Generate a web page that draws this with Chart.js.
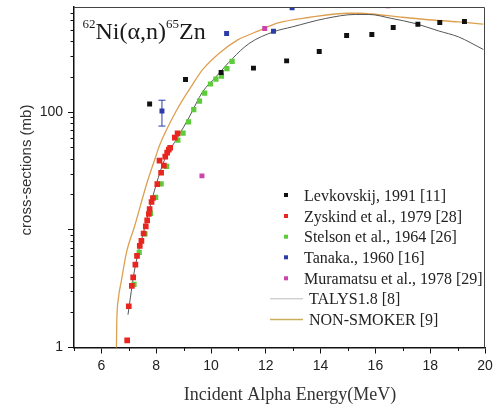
<!DOCTYPE html>
<html><head><meta charset="utf-8">
<script src="https://cdn.jsdelivr.net/npm/chart.js@4.4.1/dist/chart.umd.min.js"></script>
<style>html,body{margin:0;padding:0;background:#fff;}#wrap{width:497px;height:407px;}</style>
</head><body><div id="wrap"><canvas id="c" width="497" height="407"></canvas></div>
<script>
// ---- data (energies in MeV, cross-sections in mb) ----
const levE  = [7.76, 9.07, 10.37, 11.55, 12.76, 13.95, 14.95, 15.87, 16.65, 17.55, 18.35, 19.25];
const levXS = [117, 189, 217, 236, 272, 327, 447, 456, 523, 557, 576, 588];

const zysE  = [6.94, 7.00, 7.11, 7.16, 7.24, 7.30, 7.40, 7.46, 7.54, 7.62, 7.67, 7.73, 7.76, 7.83, 7.88, 8.04, 8.12, 8.18, 8.28, 8.33, 8.40, 8.46, 8.51, 8.68, 8.78];
const zysXS = [1.15, 2.24, 3.34, 3.94, 5.05, 6.0, 7.3, 8.05, 9.29, 10.7, 12.0, 13.6, 15.0, 17.2, 18.6, 24.4, 38.7, 30.5, 35.1, 41.8, 45.2, 48.0, 49.7, 60.6, 65.8];

const stelE  = [7.19, 7.38, 7.59, 7.79, 7.98, 8.18, 8.38, 8.79, 8.98, 9.18, 9.37, 9.58, 9.77, 9.98, 10.18, 10.38, 10.58, 10.77];
const stelXS = [3.43, 6.44, 9.23, 13.8, 18.8, 24.5, 34.5, 57.7, 66.2, 82.4, 105, 124, 145, 173, 190, 202, 234, 269];

const tanE   = [8.21, 10.57, 12.28, 12.96];
const tanXS  = [102, 465, 486, 770];
const tanLo  = [76, null, null, null];
const tanHi  = [126, null, null, null];

const muraE  = [9.67, 11.96, 16.46];
const muraXS = [28.7, 512, 800];

const talysE  = [6.97, 7.21, 7.575, 7.94, 8.3, 8.785, 9.21, 9.69, 10.18, 10.785, 11.39, 12.28, 12.97, 14.18, 15.27, 15.76, 16.6, 17.45, 18.3, 19.03, 19.94];
const talysXS = [1.9, 4.55, 10.3, 21.7, 39, 61, 91, 148, 199, 285, 382, 480, 529, 623, 674, 674, 623, 565, 489, 435, 340];

const nsE  = [6.54, 6.56, 6.62, 6.73, 6.92, 7.2, 7.64, 8.0, 8.12, 8.73, 9.33, 9.7, 10.3, 10.96, 11.76, 12.48, 13.57, 15.03, 15.47, 15.88, 16.85, 17.82, 19.03, 19.94];
const nsXS = [0.7, 1.6, 2.6, 3.7, 6.5, 10.5, 24, 43, 52, 102, 172, 230, 316, 408, 491, 574, 635, 690, 690, 680, 643, 611, 583, 557];

const xTickLabels = [6, 8, 10, 12, 14, 16, 18, 20];
const yTickLabels = [1, 100];

const pts = (xs, ys) => xs.map((x, i) => ({x: x, y: ys[i]}));

const SERIF = '"Liberation Serif", "Times New Roman", serif';
const SANS = '"Liberation Sans", Arial, sans-serif';

const decor = {
  id: 'decor',
  afterDatasetsDraw(chart) {
    const {ctx} = chart;
    const xs = chart.scales.x, ys = chart.scales.y;
    ctx.save();
    ctx.strokeStyle = '#2B3BA8';
    ctx.lineWidth = 1;
    tanE.forEach((e, i) => {
      if (tanLo[i] == null) return;
      const px = xs.getPixelForValue(e);
      const p1 = ys.getPixelForValue(tanLo[i]);
      const p2 = ys.getPixelForValue(tanHi[i]);
      ctx.beginPath();
      ctx.moveTo(px, p1); ctx.lineTo(px, p2);
      ctx.moveTo(px - 3.5, p1); ctx.lineTo(px + 3.5, p1);
      ctx.moveTo(px - 3.5, p2); ctx.lineTo(px + 3.5, p2);
      ctx.stroke();
    });
    ctx.restore();
  },
  afterDraw(chart) {
    const {ctx, chartArea: a} = chart;
    const xs = chart.scales.x, ys = chart.scales.y;
    ctx.save();
    ctx.strokeStyle = '#444';
    ctx.lineWidth = 1;
    ctx.beginPath();
    ctx.moveTo(a.left, a.top + 0.5); ctx.lineTo(a.right - 0.5, a.top + 0.5); ctx.lineTo(a.right - 0.5, a.bottom);
    ctx.stroke();
    ctx.strokeStyle = '#111';
    ctx.beginPath();
    for (let v = 5; v <= 20; v += 2) {
      const px = Math.round(xs.getPixelForValue(v)) + 0.5;
      ctx.moveTo(px, a.bottom); ctx.lineTo(px, a.bottom + 3.5);
    }
    for (const d of [1, 10, 100]) {
      for (let m = 2; m <= 9; m++) {
        const v = m * d;
        if (v > ys.max) break;
        const py = Math.round(ys.getPixelForValue(v)) + 0.5;
        ctx.moveTo(a.left - 3.5, py); ctx.lineTo(a.left, py);
      }
    }
    ctx.stroke();
    ctx.fillStyle = '#333';
    ctx.textAlign = 'center';
    ctx.textBaseline = 'middle';
    ctx.font = '18px ' + SERIF;
    ctx.fillText('Incident Alpha Energy(MeV)', 290, 395);
    ctx.save();
    ctx.translate(27, 170);
    ctx.rotate(-Math.PI / 2);
    ctx.font = '15px ' + SANS;
    ctx.fillText('cross-sections (mb)', 0, 0);
    ctx.restore();
    ctx.fillStyle = '#1a1a1a';
    ctx.textAlign = 'left';
    ctx.textBaseline = 'alphabetic';
    let x = 82.5;
    const parts = [['62', 13, 28], ['Ni(\u03b1,n)', 24, 39], ['65', 13, 28], ['Zn', 24, 39]];
    for (const [t, s, b] of parts) {
      ctx.font = s + 'px ' + SERIF;
      ctx.fillText(t, x, b);
      x += ctx.measureText(t).width;
    }
    const rows = [195, 216, 236.7, 257.3, 278.3, 298.3, 319];
    ctx.font = '16px ' + SERIF;
    chart.data.datasets.forEach((ds, i) => {
      const ry = rows[i];
      if (ds.showLine) {
        ctx.strokeStyle = ds.legendColor;
        ctx.lineWidth = ds.legendWidth;
        ctx.beginPath();
        ctx.moveTo(270, ry + 0.5); ctx.lineTo(303, ry + 0.5);
        ctx.stroke();
        ctx.fillStyle = '#222';
        ctx.fillText(ds.label, 309, ry + 5.5);
      } else {
        ctx.fillStyle = ds.backgroundColor;
        ctx.fillRect(284, ry - 2, 4, 4);
        ctx.fillStyle = '#222';
        ctx.fillText(ds.label, 304, ry + 5.5);
      }
    });
    ctx.restore();
  }
};

const isMajorY = v => Math.abs(Math.log10(v) - Math.round(Math.log10(v))) < 1e-9;

new Chart(document.getElementById('c'), {
  type: 'scatter',
  data: {
    datasets: [
      {label: 'Levkovskij, 1991 [11]', data: pts(levE, levXS), backgroundColor: '#111', borderColor: '#111', pointStyle: 'rect', pointRadius: 3.5, borderWidth: 0, order: 1},
      {label: 'Zyskind et al., 1979 [28]', data: pts(zysE, zysXS), backgroundColor: '#E8251F', borderColor: '#E8251F', pointStyle: 'rect', pointRadius: 4, borderWidth: 0, order: 1},
      {label: 'Stelson et al., 1964 [26]', data: pts(stelE, stelXS), backgroundColor: '#5DCB3A', borderColor: '#5DCB3A', pointStyle: 'rect', pointRadius: 3.7, borderWidth: 0, order: 2},
      {label: 'Tanaka., 1960 [16]', data: pts(tanE, tanXS), backgroundColor: '#2B3BA8', borderColor: '#2B3BA8', pointStyle: 'rect', pointRadius: 3.5, borderWidth: 0, order: 1},
      {label: 'Muramatsu et al., 1978 [29]', data: pts(muraE, muraXS), backgroundColor: '#CC44AA', borderColor: '#CC44AA', pointStyle: 'rect', pointRadius: 3.5, borderWidth: 0, order: 1},
      {label: 'TALYS1.8 [8]', data: pts(talysE, talysXS), showLine: true, borderColor: '#555', borderWidth: 1, legendColor: '#bbbbbb', legendWidth: 1, pointRadius: 0, cubicInterpolationMode: 'monotone', order: 10},
      {label: 'NON-SMOKER [9]', data: pts(nsE, nsXS), showLine: true, borderColor: '#DDA050', borderWidth: 1.3, legendColor: '#C9AE5E', legendWidth: 1.3, pointRadius: 0, cubicInterpolationMode: 'monotone', order: 11}
    ]
  },
  options: {
    responsive: false,
    animation: false,
    devicePixelRatio: 1,
    layout: {padding: {top: 7, right: 12, left: 0, bottom: 0}},
    plugins: {legend: {display: false}, tooltip: {enabled: false}},
    scales: {
      x: {
        type: 'linear', min: 5, max: 20,
        afterFit: s => { s.height = 59.5; s.paddingLeft = 0; s.paddingRight = 0; },
        border: {display: true, color: '#111', width: 1.5},
        grid: {drawOnChartArea: false, drawTicks: true, tickLength: 6,
               tickColor: c => (c.tick && xTickLabels.includes(c.tick.value)) ? '#111' : 'rgba(0,0,0,0)'},
        ticks: {stepSize: 1, autoSkip: false, maxRotation: 0, padding: 4, color: '#222',
                font: {family: SANS, size: 14},
                callback: v => xTickLabels.includes(v) ? String(v) : ''}
      },
      y: {
        type: 'logarithmic', min: 1, max: 780,
        afterFit: s => { s.width = 74; s.paddingTop = 0; s.paddingBottom = 0; },
        border: {display: true, color: '#111', width: 1.5},
        grid: {drawOnChartArea: false, drawTicks: true, tickLength: 6,
               tickColor: c => (c.tick && isMajorY(c.tick.value)) ? '#111' : 'rgba(0,0,0,0)'},
        ticks: {autoSkip: false, padding: 5, color: '#222',
                font: {family: SANS, size: 14},
                callback: v => yTickLabels.includes(v) ? String(v) : ''}
      }
    }
  },
  plugins: [decor]
});
</script>
</body></html>
